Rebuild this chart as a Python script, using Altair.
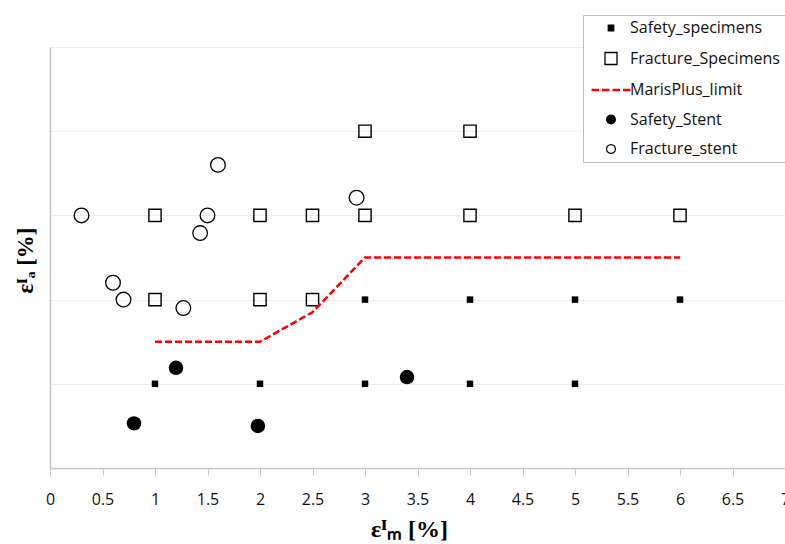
import altair as alt
import pandas as pd

# Series names in legend order
series_names = ["Safety_specimens", "Fracture_Specimens", "MarisPlus_limit",
                "Safety_Stent", "Fracture_stent"]

# Safety specimens (small filled squares)
safety_spec_x = [1, 2, 3, 4, 5, 3, 4, 5, 6]
safety_spec_y = [1, 1, 1, 1, 1, 2, 2, 2, 2]

# Fracture specimens (open squares)
fracture_spec_x = [1, 2, 2.5, 1, 2, 2.5, 3, 4, 5, 6, 3, 4]
fracture_spec_y = [2, 2, 2, 3, 3, 3, 3, 3, 3, 3, 4, 4]

# MarisPlus limit curve
limit_x = [1, 2, 2.5, 3, 6]
limit_y = [1.5, 1.5, 1.85, 2.5, 2.5]

# Safety stent (filled circles)
safety_stent_x = [0.8, 1.2, 1.98, 3.4]
safety_stent_y = [0.53, 1.19, 0.5, 1.08]

# Fracture stent (open circles)
fracture_stent_x = [0.3, 0.6, 0.7, 1.27, 1.43, 1.5, 1.6, 2.92]
fracture_stent_y = [3.0, 2.2, 2.0, 1.9, 2.79, 3.0, 3.6, 3.21]

x_ticks = [0, 0.5, 1, 1.5, 2, 2.5, 3, 3.5, 4, 4.5, 5, 5.5, 6, 6.5, 7]
y_grid = [0, 1, 2, 3, 4, 5]


def frame(xs, ys):
    return pd.DataFrame({"x": xs, "y": ys})


x_scale = alt.Scale(domain=[0, 7], nice=False, zero=False)
y_scale = alt.Scale(domain=[0, 5], nice=False, zero=False)

x_enc = alt.X(
    "x:Q", scale=x_scale,
    axis=alt.Axis(
        values=x_ticks, format="~g", title="εᴵₘ [%]", grid=False,
        labelFont="Open Sans", labelFontSize=16, labelColor="#111111",
        labelPadding=16, labelFlush=False, labelOverlap=False,
        tickColor="#c8c8c8", tickSize=7, domainColor="#c8c8c8", domainWidth=1.3,
        titleFont="Liberation Serif", titleFontSize=24, titleFontWeight="bold",
        titleColor="#000000", titleX=359, titleY=61, titleBaseline="middle",
        titleAlign="center",
    ),
)
y_enc = alt.Y(
    "y:Q", scale=y_scale,
    axis=alt.Axis(
        values=y_grid, labels=False, ticks=False, grid=True,
        gridColor="#ececec", gridWidth=1,
        domainColor="#c8c8c8", domainWidth=1.6,
        title="εᴵₐ [%]", titleFont="Liberation Serif", titleFontSize=23,
        titleFontWeight="bold", titleColor="#000000",
        titleX=-25, titleY=213, titleAngle=-90, titleBaseline="middle",
        titleAlign="center",
    ),
)

safety_spec = alt.Chart(frame(safety_spec_x, safety_spec_y)).mark_point(
    shape="square", filled=True, size=42, color="black", opacity=1
).encode(x=x_enc, y=y_enc)

fracture_spec = alt.Chart(frame(fracture_spec_x, fracture_spec_y)).mark_point(
    shape="square", filled=False, size=150, color="black", strokeWidth=1.4, opacity=1
).encode(x="x:Q", y="y:Q")

limit = alt.Chart(frame(limit_x, limit_y)).mark_line(
    color="#ff0000", strokeDash=[7, 3], strokeWidth=2.5
).encode(x="x:Q", y="y:Q")

safety_stent = alt.Chart(frame(safety_stent_x, safety_stent_y)).mark_point(
    shape="circle", filled=True, size=210, color="black", opacity=1
).encode(x="x:Q", y="y:Q")

fracture_stent = alt.Chart(frame(fracture_stent_x, fracture_stent_y)).mark_point(
    shape="circle", filled=False, size=215, color="black", strokeWidth=1.3, opacity=1
).encode(x="x:Q", y="y:Q")

# Legend symbols: the dashed red segment is four small filled bars, wider
# than the symbol's unit box so the legend rows keep an even height
dash_path = (
    "M-2.4375,-0.16H-1.5V0.16H-2.4375Z"
    "M-1.125,-0.16H-0.1875V0.16H-1.125Z"
    "M0.1875,-0.16H1.125V0.16H0.1875Z"
    "M1.5,-0.16H2.4375V0.16H1.5Z"
)
legend_shapes = ["square", "square", dash_path, "circle", "circle"]
legend_fills = ["black", "white", "#ff0000", "black", "white"]
legend_strokes = ["black", "black", "transparent", "black", "black"]
legend_sizes = [30, 144, 256, 75, 80]

leg = alt.Legend(
    title=None, orient="none", legendX=533, legendY=-32,
    labelFont="Open Sans", labelFontSize=16, labelColor="#111111",
    symbolStrokeWidth=1.3, rowPadding=13.5, padding=5,
    symbolOffset=14, labelOffset=10,
    strokeColor="#bdbdbd", fillColor="white", labelLimit=300,
)


def ord_scale(values):
    return alt.Scale(type="ordinal", domain=series_names, range=values)


legend_layer = alt.Chart(pd.DataFrame({"series": series_names})).transform_filter(
    "false"
).mark_point(opacity=1).encode(
    shape=alt.Shape("series:N", scale=ord_scale(legend_shapes), legend=leg),
    fill=alt.Fill("series:N", scale=ord_scale(legend_fills), legend=leg),
    stroke=alt.Stroke("series:N", scale=ord_scale(legend_strokes), legend=leg),
    size=alt.Size("series:N", scale=ord_scale(legend_sizes), legend=leg),
)

chart = alt.layer(
    safety_spec, fracture_spec, limit, safety_stent, fracture_stent, legend_layer
).properties(
    width=735, height=421,
    autosize=alt.AutoSizeParams(type="none"),
    padding={"left": 50, "top": 47, "right": 0, "bottom": 76},
    background="white",
).configure_view(stroke=None)

chart.save("out.html", embed_options={"renderer": "svg", "actions": False})
